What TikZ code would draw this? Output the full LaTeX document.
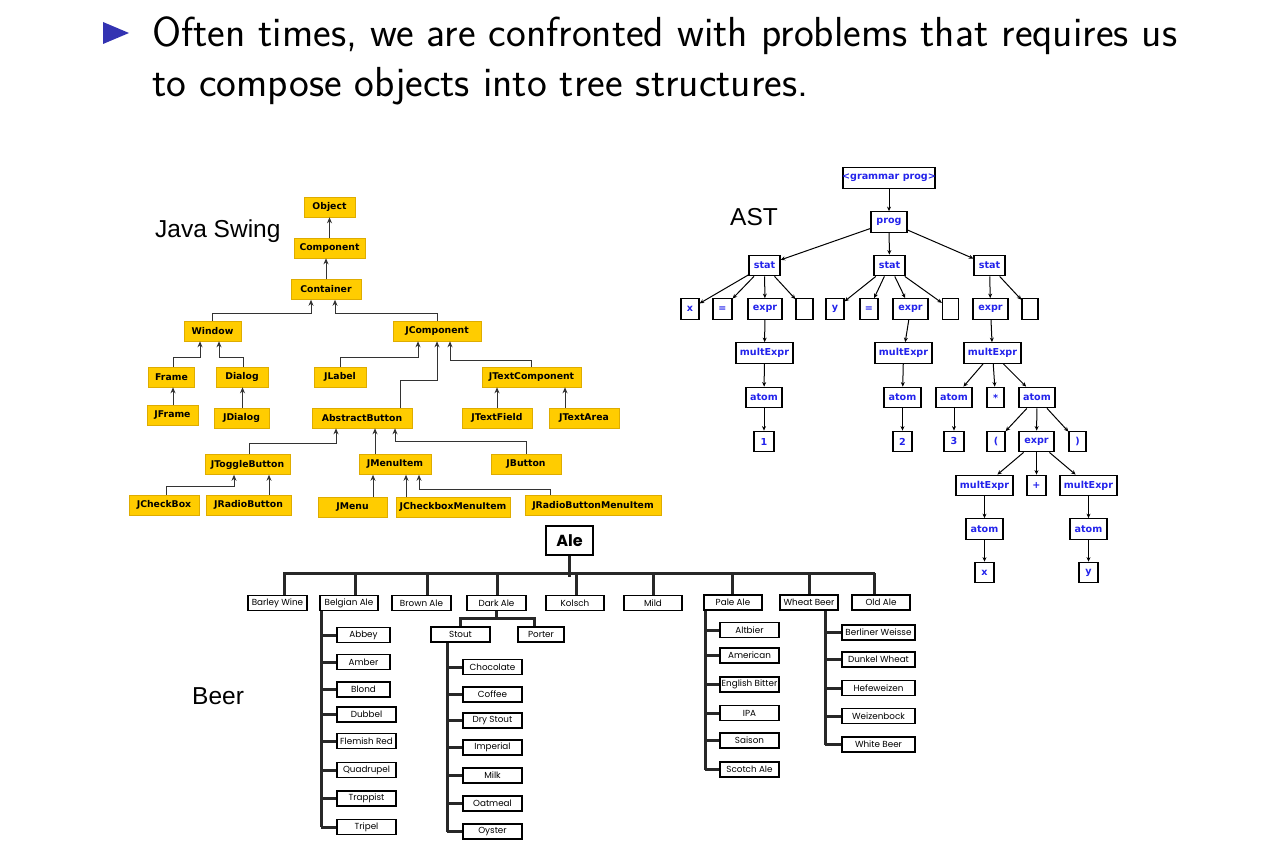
\documentclass[tikz,border=0pt]{standalone}
\usepackage{fontspec}
\usetikzlibrary{arrows.meta,calc}
\newfontfamily\dejavu{DejaVu Sans}
\newfontfamily\labelfont{Liberation Sans}
\newfontfamily\beerfont{Poppins}
\definecolor{swingyellow}{RGB}{255,204,0}
\definecolor{swingedge}{RGB}{222,172,0}
\definecolor{astblue}{RGB}{35,35,235}
\definecolor{bulletblue}{RGB}{51,51,178}
\definecolor{beerline}{RGB}{40,40,40}

\begin{document}
\begin{tikzpicture}[x=1pt,y=-1pt,
  jbox/.style={draw=swingedge, line width=0.6pt, fill=swingyellow,
    font=\dejavu\bfseries\fontsize{9.3}{10}\selectfont, minimum height=20pt, inner sep=0pt},
  jarrow/.style={draw=black!80, line width=0.9pt, -{Stealth[length=6pt,width=5pt]}},
  abox/.style={draw, line width=1.3pt, fill=white, text=astblue,
    font=\dejavu\bfseries\fontsize{9.6}{10}\selectfont, minimum height=20.5pt, inner sep=0pt},
  aedge/.style={line width=1pt, -{Stealth[length=4.5pt,width=4pt]}},
  bbox/.style={draw, line width=1.3pt, fill=white,
    font=\beerfont\fontsize{8.8}{9}\selectfont, minimum height=15pt, inner sep=0pt},
  bline/.style={draw=beerline, line width=3pt},
  heading/.style={anchor=base west, inner sep=0pt, font=\sffamily\fontsize{42}{49}\selectfont},
  treelabel/.style={anchor=base west, inner sep=0pt, font=\labelfont\fontsize{24.5}{28}\selectfont},
]
\useasboundingbox (0,0) rectangle (1280,861);
\fill[white] (0,0) rectangle (1280,861);

% ---------- heading ----------
\fill[bulletblue] (103,22) -- (129,33) -- (103,44) -- cycle;
\node[heading] (line1) at (152,47) {Often times, we are confronted with problems that requires us};
\node[heading] (line2) at (152,97) {to compose objects into tree structures.};

% ---------- tree titles ----------
\node[treelabel] (javalbl) at (155,237) {Java Swing};
\node[treelabel] (astlbl) at (730,226) {AST};
\node[treelabel] (beerlbl) at (192,704) {Beer};

% ---------- Java Swing class hierarchy ----------
\node[jbox, minimum width=51pt]  (object)         at (329.5,207) {Object};
\node[jbox, minimum width=71pt]  (component)      at (329.5,248) {Component};
\node[jbox, minimum width=70pt]  (container)      at (326,289.5) {Container};
\node[jbox, minimum width=57pt]  (window)         at (212.5,331) {Window};
\node[jbox, minimum width=88pt]  (jcomponent)     at (437,331)   {JComponent};
\node[jbox, minimum width=46pt]  (frame)          at (171.5,377) {Frame};
\node[jbox, minimum width=52pt]  (dialog)         at (242,377)   {Dialog};
\node[jbox, minimum width=52pt]  (jlabel)         at (340,377)   {JLabel};
\node[jbox, minimum width=99pt]  (jtextcomponent) at (531.5,377) {JTextComponent};
\node[jbox, minimum width=51pt]  (jframe)         at (172.5,415) {JFrame};
\node[jbox, minimum width=55pt]  (jdialog)        at (241.5,418) {JDialog};
\node[jbox, minimum width=100pt] (abstractbutton) at (362,418)   {AbstractButton};
\node[jbox, minimum width=70pt]  (jtextfield)     at (497,418)   {JTextField};
\node[jbox, minimum width=70pt]  (jtextarea)      at (584,418)   {JTextArea};
\node[jbox, minimum width=85pt]  (jtogglebutton)  at (247.5,464.5) {JToggleButton};
\node[jbox, minimum width=72pt]  (jmenuitem)      at (395,464.5) {JMenuItem};
\node[jbox, minimum width=70pt]  (jbutton)        at (526,464)   {JButton};
\node[jbox, minimum width=70pt]  (jcheckbox)      at (164,505)   {JCheckBox};
\node[jbox, minimum width=85pt]  (jradiobutton)   at (248.5,505) {JRadioButton};
\node[jbox, minimum width=69pt]  (jmenu)          at (352.5,507) {JMenu};
\node[jbox, minimum width=114pt] (jcheckboxmenuitem) at (453,507) {JCheckboxMenuItem};
\node[jbox, minimum width=136pt] (jradiobuttonmenuitem) at (593,505.5) {JRadioButtonMenuItem};

\draw[jarrow] (component) -- (object);
\draw[jarrow] (container.north) -- (container.north |- component.south);
\draw[jarrow] (window.north) -- (window.north |- 0,313) -| ($(container.south)+(-15,0)$);
\draw[jarrow] (jcomponent.north) -- (jcomponent.north |- 0,313) -| ($(container.south)+(9,0)$);
\draw[jarrow] ($(frame.north)+(1.5,0)$) -- ++(0,-9) -| ($(window.south)+(-12.5,0)$);
\draw[jarrow] ($(dialog.north)+(1,0)$) -- ++(0,-9) -| ($(window.south)+(6.5,0)$);
\draw[jarrow] ($(jframe.north)+(0.5,0)$) -- ($(frame.south)+(1.5,0)$);
\draw[jarrow] ($(jdialog.north)+(1,0)$) -- ($(dialog.south)+(0.5,0)$);
\draw[jarrow] (jlabel.north) -- ++(0,-9) -| ($(jcomponent.south)+(-19,0)$);
\draw[jarrow] ($(abstractbutton.north)+(38,0)$) -- ++(0,-27) -| (jcomponent.south);
\draw[jarrow] (jtextcomponent.north) -- ++(0,-6) -| ($(jcomponent.south)+(13,0)$);
\draw[jarrow] (jtextfield.north) -- (jtextfield.north |- jtextcomponent.south);
\draw[jarrow] ($(jtextarea.north)+(-19,0)$) -- ($(jtextarea.north |- jtextcomponent.south)+(-19,0)$);
\draw[jarrow] ($(jtogglebutton.north)+(1.5,0)$) -- ++(0,-10.5) -| ($(abstractbutton.south)+(-26,0)$);
\draw[jarrow] ($(jmenuitem.north)+(-20,0)$) -- ($(jmenuitem.north |- abstractbutton.south)+(-20,0)$);
\draw[jarrow] (jbutton.north) -- ++(0,-12) -| ($(abstractbutton.south)+(33,0)$);
\draw[jarrow] ($(jcheckbox.north)+(2,0)$) -- ++(0,-8) -| ($(jtogglebutton.south)+(-13.5,0)$);
\draw[jarrow] ($(jradiobutton.north)+(20.5,0)$) -- ($(jradiobutton.north |- jtogglebutton.south)+(20.5,0)$);
\draw[jarrow] ($(jmenu.north)+(20.5,0)$) -- ($(jmenu.north |- jmenuitem.south)+(20.5,0)$);
\draw[jarrow] ($(jcheckboxmenuitem.north)+(-47,0)$) -- ($(jcheckboxmenuitem.north |- jmenuitem.south)+(-47,0)$);
\draw[jarrow] ($(jradiobuttonmenuitem.north)+(-43,0)$) -- ++(0,-5.5) -| ($(jmenuitem.south)+(24,0)$);

% ---------- abstract syntax tree ----------
\node[abox, minimum width=92pt, inner xsep=-3pt] (grammar) at (889,178) {<grammar prog>};
\node[abox, minimum width=36pt] (prog)    at (889,222)     {prog};
\node[abox, minimum width=31pt] (stat1)   at (764.5,265.5) {stat};
\node[abox, minimum width=31pt] (stat2)   at (889.5,265.5) {stat};
\node[abox, minimum width=31pt] (stat3)   at (989.5,265.5) {stat};
\node[abox, minimum width=18pt] (ax)      at (690,309)     {x};
\node[abox, minimum width=19pt] (aeq1)    at (722.5,309)   {=};
\node[abox, minimum width=34pt] (expr1)   at (765,309)     {expr};
\node[abox, minimum width=17pt] (emp1)    at (804.5,309)   {};
\node[abox, minimum width=18pt] (ay)      at (835,309)     {y};
\node[abox, minimum width=18pt] (aeq2)    at (869,309)     {=};
\node[abox, minimum width=35pt] (expr2)   at (910.5,309)   {expr};
\node[abox, minimum width=16pt] (emp2)    at (950.5,309)   {};
\node[abox, minimum width=35pt] (expr3)   at (990.5,309)   {expr};
\node[abox, minimum width=16pt] (emp3)    at (1030,309)    {};
\node[abox, minimum width=57pt] (mult1)   at (764.5,353)   {multExpr};
\node[abox, minimum width=36pt] (atom1)   at (764,397.5)   {atom};
\node[abox, minimum width=20pt] (one)     at (764,441.5)   {1};
\node[abox, minimum width=57pt] (mult2)   at (903.5,353)   {multExpr};
\node[abox, minimum width=37pt] (atom2)   at (902.5,397.5) {atom};
\node[abox, minimum width=19pt] (two)     at (902.5,441.5) {2};
\node[abox, minimum width=57pt] (mult3)   at (992.5,353)   {multExpr};
\node[abox, minimum width=36pt] (atom3)   at (954,397.5)   {atom};
\node[abox, minimum width=17pt] (star)    at (995.5,397.5) {*};
\node[abox, minimum width=36pt] (atom4)   at (1037,397.5)  {atom};
\node[abox, minimum width=20pt] (three)   at (954,441.5)   {3};
\node[abox, minimum width=18pt] (lpar)    at (996,441.5)   {(};
\node[abox, minimum width=35pt] (expr4)   at (1036.5,441.5) {expr};
\node[abox, minimum width=17pt] (rpar)    at (1077.5,441.5) {)};
\node[abox, minimum width=57pt] (mult4)   at (984.5,485.5) {multExpr};
\node[abox, minimum width=19pt] (plus)    at (1036.5,485.5) {+};
\node[abox, minimum width=57pt] (mult5)   at (1088.5,485.5) {multExpr};
\node[abox, minimum width=37pt] (atom5)   at (984.5,529)   {atom};
\node[abox, minimum width=37pt] (atom6)   at (1088.5,529)  {atom};
\node[abox, minimum width=19pt] (ax2)     at (984.5,572.5) {x};
\node[abox, minimum width=19pt] (ay2)     at (1088.5,572.5) {y};

\foreach \a/\b in {grammar/prog, prog/stat1, prog/stat2, prog/stat3,
    stat1/ax, stat1/aeq1, stat1/expr1, stat1/emp1,
    stat2/ay, stat2/aeq2, stat2/expr2, stat2/emp2,
    stat3/expr3, stat3/emp3,
    expr1/mult1, mult1/atom1, atom1/one,
    expr2/mult2, mult2/atom2, atom2/two,
    expr3/mult3, mult3/atom3, mult3/star, mult3/atom4, atom3/three,
    atom4/lpar, atom4/expr4, atom4/rpar,
    expr4/mult4, expr4/plus, expr4/mult5,
    mult4/atom5, atom5/ax2, mult5/atom6, atom6/ay2}
  \draw[aedge] (\a) -- (\b);

% ---------- beer styles ----------
\node[bbox, minimum width=47pt, minimum height=29pt, font=\beerfont\bfseries\fontsize{16}{18}\selectfont] (ale) at (569.5,540.5) {Ale};
\node[bbox, minimum width=59pt] (barley)  at (277.5,603) {Barley Wine};
\node[bbox, minimum width=58pt] (belgian) at (349,603)   {Belgian Ale};
\node[bbox, minimum width=59pt] (brown)   at (421.5,603) {Brown Ale};
\node[bbox, minimum width=59pt] (dark)    at (496.5,603) {Dark Ale};
\node[bbox, minimum width=58pt] (kolsch)  at (575,603)   {Kolsch};
\node[bbox, minimum width=58pt] (mild)    at (653,603)   {Mild};
\node[bbox, minimum width=58pt] (pale)    at (733,602.5) {Pale Ale};
\node[bbox, minimum width=58pt] (wheat)   at (809,602.5) {Wheat Beer};
\node[bbox, minimum width=58pt] (oldale)  at (881,602.5) {Old Ale};

\node[bbox, minimum width=53pt] (abbey)     at (363.5,635)   {Abbey};
\node[bbox, minimum width=53pt] (amber)     at (363.5,662)   {Amber};
\node[bbox, minimum width=53pt] (blond)     at (363.5,689.5) {Blond};
\node[bbox, minimum width=59pt] (dubbel)    at (366.5,714.5) {Dubbel};
\node[bbox, minimum width=59pt] (flemish)   at (366.5,741)   {Flemish Red};
\node[bbox, minimum width=59pt] (quadrupel) at (366.5,770)   {Quadrupel};
\node[bbox, minimum width=59pt] (trappist)  at (366.5,798.5) {Trappist};
\node[bbox, minimum width=59pt] (tripel)    at (366.5,827)   {Tripel};

\node[bbox, minimum width=59pt] (stout)  at (460.5,634.5) {Stout};
\node[bbox, minimum width=46pt] (porter) at (541,634.5)   {Porter};
\node[bbox, minimum width=59pt] (chocolate) at (492.5,667)   {Chocolate};
\node[bbox, minimum width=59pt] (coffee)    at (492.5,694.5) {Coffee};
\node[bbox, minimum width=59pt] (drystout)  at (492.5,720.5) {Dry Stout};
\node[bbox, minimum width=59pt] (imperial)  at (492.5,747.5) {Imperial};
\node[bbox, minimum width=59pt] (milk)      at (492.5,775.5) {Milk};
\node[bbox, minimum width=59pt] (oatmeal)   at (492.5,803.5) {Oatmeal};
\node[bbox, minimum width=59pt] (oyster)    at (492.5,831.5) {Oyster};

\node[bbox, minimum width=59pt] (altbier)  at (749.5,630)   {Altbier};
\node[bbox, minimum width=59pt] (american) at (749.5,655.5) {American};
\node[bbox, minimum width=59pt, inner xsep=1pt] (english) at (749.5,684.5) {English Bitter};
\node[bbox, minimum width=59pt] (ipa)      at (749.5,713)   {IPA};
\node[bbox, minimum width=59pt] (saison)   at (749.5,740.5) {Saison};
\node[bbox, minimum width=59pt] (scotch)   at (749.5,769.5) {Scotch Ale};

\node[bbox, minimum width=73pt] (berliner) at (878.5,632.5) {Berliner Weisse};
\node[bbox, minimum width=73pt] (dunkel)   at (878.5,659.5) {Dunkel Wheat};
\node[bbox, minimum width=73pt] (hefe)     at (878.5,688)   {Hefeweizen};
\node[bbox, minimum width=73pt] (weizen)   at (878.5,716)   {Weizenbock};
\node[bbox, minimum width=73pt] (white)    at (878.5,744.5) {White Beer};

% main bar under Ale
\coordinate (barL) at (283,573);
\coordinate (barR) at (875,573);
\draw[bline] (barL) -- (barR);
\draw[bline] (ale.south) -- ++(0,21);
\foreach \n/\s in {barley/6.5, belgian/6, brown/5.5, dark/0.5, kolsch/1,
    mild/0, pale/-1, wheat/0, oldale/-7}
  \draw[bline] ($(\n.north)+(\s,0)$) -- ($(\n.north |- barL)+(\s,0)$);

% Belgian Ale spine
\draw[bline] ($(belgian.south west)+(2,0)$) -- ($(belgian.south west |- tripel.west)+(2,0)$);
\foreach \c in {abbey, amber, blond, dubbel, flemish, quadrupel, trappist, tripel}
  \draw[bline] (\c.west) -- ($(\c.west -| belgian.south west)+(2,0)$);

% Dark Ale fork
\draw[bline] (dark.south) -- ($(dark.south)+(0,7)$);
\draw[bline] (stout.north) |- ($(dark.south)+(0,7)$) -| ($(porter.north)+(-7,0)$);

% Stout spine
\draw[bline] ($(stout.south west)+(17,0)$) -- ($(stout.south west |- oyster.west)+(17,0)$);
\foreach \c in {chocolate, coffee, drystout, imperial, milk, oatmeal, oyster}
  \draw[bline] (\c.west) -- ($(\c.west -| stout.south west)+(17,0)$);

% Pale Ale spine
\draw[bline] ($(pale.south west)+(2,0)$) -- ($(pale.south west |- scotch.west)+(2,0)$);
\foreach \c in {altbier, american, english, ipa, saison, scotch}
  \draw[bline] (\c.west) -- ($(\c.west -| pale.south west)+(2,0)$);

% Wheat Beer spine
\draw[bline] ($(wheat.south west)+(46,0)$) -- ($(wheat.south west |- white.west)+(46,0)$);
\foreach \c in {berliner, dunkel, hefe, weizen, white}
  \draw[bline] (\c.west) -- ($(\c.west -| wheat.south west)+(46,0)$);

\end{tikzpicture}
\end{document}
